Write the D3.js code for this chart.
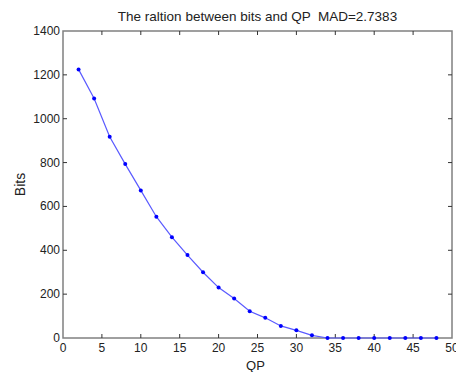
<!DOCTYPE html>
<html>
<head>
<meta charset="utf-8">
<script src="https://cdn.jsdelivr.net/npm/d3@7"></script>
<style>
  html, body { margin: 0; padding: 0; background: #fff; }
  svg { display: block; font-family: "Liberation Sans", Arial, sans-serif; }
</style>
</head>
<body>
<svg id="chart"></svg>
<script>
const qp = [2, 4, 6, 8, 10, 12, 14, 16, 18, 20, 22, 24, 26, 28, 30, 32, 34, 36, 38, 40, 42, 44, 46, 48];
const bits = [1225, 1092, 918, 793, 673, 553, 460, 378, 300, 230, 180, 122, 92, 55, 35, 12, 0, 0, 0, 0, 0, 0, 0, 0];
const xTicks = [0, 5, 10, 15, 20, 25, 30, 35, 40, 45, 50];
const yTicks = [0, 200, 400, 600, 800, 1000, 1200, 1400];
const title = 'The raltion between bits and QP  MAD=2.7383';

const width = 456, height = 372;
const margin = { top: 31, right: 4, bottom: 34, left: 63 };
const svg = d3.select('#chart').attr('width', width).attr('height', height);

const x = d3.scaleLinear().domain([0, 50]).range([margin.left, width - margin.right]);
const y = d3.scaleLinear().domain([0, 1400]).range([height - margin.bottom, margin.top]);

// plot box
svg.append('rect')
  .attr('x', x(0)).attr('y', y(1400))
  .attr('width', x(50) - x(0)).attr('height', y(0) - y(1400))
  .attr('fill', 'none').attr('stroke', '#808080').attr('stroke-width', 1.5);

const tickLen = 4;
const tickColor = '#333';

// inward ticks on all four sides
const xt = svg.append('g').attr('class', 'xticks');
xt.selectAll('line.b').data(xTicks.slice(1, -1)).enter().append('line')
  .attr('x1', (d) => x(d)).attr('x2', (d) => x(d))
  .attr('y1', y(0)).attr('y2', y(0) - tickLen)
  .attr('stroke', tickColor);
xt.selectAll('line.t').data(xTicks.slice(1, -1)).enter().append('line')
  .attr('x1', (d) => x(d)).attr('x2', (d) => x(d))
  .attr('y1', y(1400)).attr('y2', y(1400) + tickLen)
  .attr('stroke', tickColor);
xt.selectAll('text').data(xTicks).enter().append('text')
  .attr('x', (d) => x(d)).attr('y', y(0) + 14)
  .attr('text-anchor', 'middle').attr('font-size', 12).attr('fill', '#222')
  .text((d) => d);

const yt = svg.append('g').attr('class', 'yticks');
yt.selectAll('line.l').data(yTicks.slice(1, -1)).enter().append('line')
  .attr('x1', x(0)).attr('x2', x(0) + tickLen)
  .attr('y1', (d) => y(d)).attr('y2', (d) => y(d))
  .attr('stroke', tickColor);
yt.selectAll('line.r').data(yTicks.slice(1, -1)).enter().append('line')
  .attr('x1', x(50)).attr('x2', x(50) - tickLen)
  .attr('y1', (d) => y(d)).attr('y2', (d) => y(d))
  .attr('stroke', tickColor);
yt.selectAll('text').data(yTicks).enter().append('text')
  .attr('x', x(0) - 3).attr('y', (d) => y(d) + 4)
  .attr('text-anchor', 'end').attr('font-size', 12).attr('fill', '#222')
  .text((d) => d);

// data line + markers
const pts = qp.map((q, i) => ({ q, b: bits[i] }));
svg.append('path')
  .datum(pts)
  .attr('d', d3.line().x((d) => x(d.q)).y((d) => y(d.b)))
  .attr('fill', 'none').attr('stroke', '#5a5aff').attr('stroke-width', 1.2);
svg.selectAll('circle.pt').data(pts).enter().append('circle')
  .attr('class', 'pt')
  .attr('cx', (d) => x(d.q)).attr('cy', (d) => y(d.b))
  .attr('r', 2).attr('fill', '#0000ff');

// labels
svg.append('text')
  .attr('x', (x(0) + x(50)) / 2).attr('y', 21)
  .attr('text-anchor', 'middle').attr('font-size', 13.5).attr('fill', '#222')
  .style('white-space', 'pre')
  .text(title);
svg.append('text')
  .attr('x', (x(0) + x(50)) / 2 - 2).attr('y', 370)
  .attr('text-anchor', 'middle').attr('font-size', 13).attr('fill', '#222')
  .text('QP');
svg.append('text')
  .attr('transform', `translate(25,${(y(0) + y(1400)) / 2}) rotate(-90)`)
  .attr('text-anchor', 'middle').attr('font-size', 14).attr('fill', '#222')
  .text('Bits');
</script>
</body>
</html>
